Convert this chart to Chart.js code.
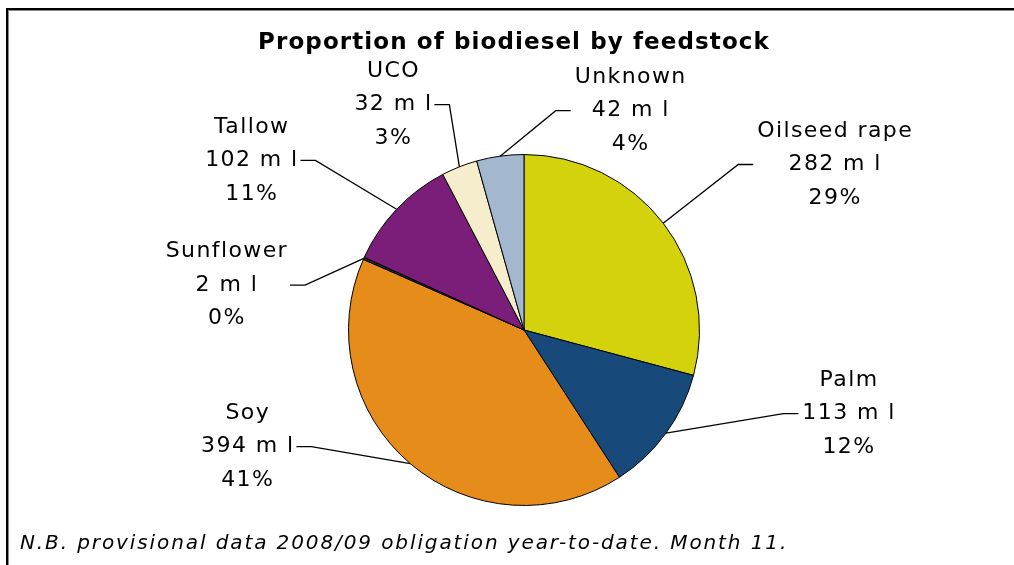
<!DOCTYPE html>
<html>
<head>
<meta charset="utf-8">
<script src="https://cdn.jsdelivr.net/npm/chart.js@4.4.1/dist/chart.umd.min.js"></script>
<style>
  html, body { margin: 0; padding: 0; background: #fff; }
  canvas { display: block; }
</style>
</head>
<body>
<canvas id="chart" width="1014" height="565"></canvas>
<script>
// feedstock volumes, million litres
const categories = ['Oilseed rape', 'Palm', 'Soy', 'Sunflower', 'Tallow', 'UCO', 'Unknown'];
const volumes = [282, 113, 394, 2, 102, 32, 42];
const unitLabel = 'm l';
const chartTitle = 'Proportion of biodiesel by feedstock';
const footnote = 'N.B. provisional data 2008/09 obligation year-to-date. Month 11.';

const sliceColors = ['#d4d20c', '#174a7a', '#e68c1a', '#2a2a2a', '#7a1e7a', '#f5edcc', '#a3b8cf'];

// label block centre (middle line) relative to the pie centre, in radii
const labelPlacement = [
    [1.773, -0.943],
    [1.852, 0.477],
    [-1.574, 0.665],
    [-1.693, -0.256],
    [-1.551, -0.966],
    [-0.744, -1.284],
    [0.608, -1.250]
];

const total = volumes.reduce((a, b) => a + b, 0);

const frameAndText = {
    id: 'frameAndText',
    beforeDraw(chart) {
        const ctx = chart.ctx;
        ctx.save();
        ctx.fillStyle = '#fff';
        ctx.fillRect(0, 0, chart.width, chart.height);
        // outer frame, top and left only
        ctx.fillStyle = '#000';
        ctx.fillRect(6, 8, chart.width - 6, 2);
        ctx.fillRect(6, 8, 2, chart.height - 8);
        ctx.fillStyle = '#8a8a8a';
        ctx.fillRect(8, 10, chart.width - 8, 1);
        ctx.fillRect(8, 10, 1, chart.height - 10);
        ctx.restore();
    },
    afterDraw(chart) {
        const ctx = chart.ctx;
        const meta = chart.getDatasetMeta(0);
        ctx.save();
        ctx.fillStyle = '#000';

        // title
        ctx.font = 'bold 23px "DejaVu Sans"';
        ctx.letterSpacing = '1.1px';
        ctx.textAlign = 'center';
        ctx.textBaseline = 'alphabetic';
        ctx.fillText(chartTitle, 514, 49);

        // slice labels with leader lines
        ctx.font = '22px "DejaVu Sans"';
        ctx.letterSpacing = '1.4px';
        ctx.textBaseline = 'middle';
        ctx.strokeStyle = '#000';
        ctx.lineWidth = 1.3;
        const lineGap = 33.5;
        meta.data.forEach((arc, i) => {
            const p = arc.getProps(['x', 'y', 'startAngle', 'endAngle', 'outerRadius'], true);
            const mid = (p.startAngle + p.endAngle) / 2;
            const ex = p.x + Math.cos(mid) * p.outerRadius;
            const ey = p.y + Math.sin(mid) * p.outerRadius;
            const lx = p.x + labelPlacement[i][0] * p.outerRadius;
            const ly = p.y + labelPlacement[i][1] * p.outerRadius;
            const pct = Math.round(volumes[i] / total * 100) + '%';
            const lines = [categories[i], volumes[i] + ' ' + unitLabel, pct];
            const w = Math.max(...lines.map(t => ctx.measureText(t).width));
            lines.forEach((t, k) => ctx.fillText(t, lx, ly + (k - 1) * lineGap));

            const onRight = lx > p.x;
            const sx = onRight ? lx - w / 2 - 4 : lx + w / 2 + 2;
            const kx = onRight ? sx - 15 : sx + 15;
            ctx.beginPath();
            ctx.moveTo(sx, ly);
            ctx.lineTo(kx, ly);
            ctx.lineTo(ex, ey);
            ctx.stroke();
        });

        // footnote
        ctx.font = 'italic 20px "DejaVu Sans"';
        ctx.letterSpacing = '1.9px';
        ctx.textAlign = 'left';
        ctx.textBaseline = 'alphabetic';
        ctx.fillText(footnote, 20, 549);
        ctx.restore();
    }
};

new Chart(document.getElementById('chart'), {
    type: 'pie',
    data: {
        labels: categories,
        datasets: [{
            data: volumes,
            backgroundColor: sliceColors,
            borderColor: '#000',
            borderWidth: 1
        }]
    },
    options: {
        responsive: false,
        animation: false,
        devicePixelRatio: 1,
        layout: { padding: { top: 154, bottom: 59, left: 34, right: 0 } },
        plugins: {
            legend: { display: false },
            tooltip: { enabled: false },
            title: { display: false }
        }
    },
    plugins: [frameAndText]
});
</script>
</body>
</html>
